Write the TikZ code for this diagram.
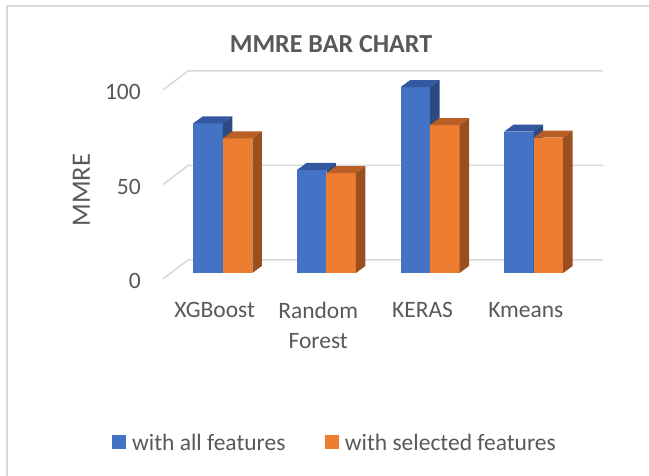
\documentclass[tikz,border=0pt]{standalone}
\usepackage{fontspec}
\setmainfont{Carlito}
\usepackage{xcolor}
\usetikzlibrary{positioning}

\definecolor{barblue}{HTML}{4472C4}
\definecolor{barbluetop}{HTML}{3358A0}
\definecolor{barblueside}{HTML}{2C4A82}
\definecolor{barorange}{HTML}{ED7D31}
\definecolor{barorangetop}{HTML}{B95E24}
\definecolor{barorangeside}{HTML}{9A4F1E}
\definecolor{gridgray}{HTML}{D9D9D9}
\definecolor{txtgray}{HTML}{595959}

% one 3d column: left edge, value, colour
\newcommand{\colbar}[3]{%
  \pgfmathsetmacro{\bh}{#2*1.89}
  \fill[#3] (#1,273) rectangle ({#1+29.5},{273-\bh});
  \fill[#3top] (#1,{273-\bh}) -- ++(9.5,-7) -- ++(29.5,0) -- ++(-9.5,7) -- cycle;
  \fill[#3side] ({#1+29.5},273) -- ++(0,-\bh) -- ++(9.5,-7) -- ++(0,\bh) -- cycle;
}

\begin{document}
\begin{tikzpicture}[x=1bp,y=-1bp,
    gridline/.style={draw=gridgray,line width=1.5bp},
    chartfont/.style={text=txtgray,inner sep=0pt,font=\fontsize{23.5bp}{30bp}\selectfont},
    ticklabel/.style={chartfont,anchor=east},
    catlabel/.style={chartfont,anchor=north,align=center},
    legsq/.style={minimum size=13.5bp,inner sep=0pt},
    legtxt/.style={chartfont}]

    \useasboundingbox (0,0) rectangle (649,476);
    \fill[white] (0,0) rectangle (649,476);

    % chart frame
    \draw[gridline] (7,476) |- (649,6);

    % gridlines at 0, 50, 100
    \foreach \yb in {260,165.5,71} {
        \draw[gridline] (163,{\yb+19}) -- (188,\yb) -- (603,\yb);
    }

    % columns
    \foreach \g/\vb/\vo in {0/79.2/71.2, 1/54.5/52.8, 2/98.3/78.3, 3/74.8/71.6} {
        \pgfmathsetmacro{\bx}{193.3+103.6*\g}
        \pgfmathsetmacro{\ox}{\bx+29.5}
        \colbar{\bx}{\vb}{barblue}
        \colbar{\ox}{\vo}{barorange}
    }

    % texts
    \node[text=txtgray,font=\bfseries\fontsize{26bp}{30bp}\selectfont,inner sep=0pt] (title) at (331,44) {MMRE BAR CHART};
    \node[chartfont,font=\fontsize{26.5bp}{30bp}\selectfont,rotate=90] (ytitle) at (81.3,190) {MMRE};

    \node[ticklabel] (t100) at (141,92) {100};
    \node[ticklabel] (t50) at (141,186.5) {50};
    \node[ticklabel] (t0) at (141,281) {0};

    \node[catlabel] (xgb) at (214.7,302.3) {XGBoost};
    \node[catlabel] (rf) at (318.2,301.5) {Random\\Forest};
    \node[catlabel] (keras) at (422.5,302.3) {KERAS};
    \node[catlabel] (kmeans) at (525.8,302.3) {Kmeans};

    % legend
    \node[legsq,fill=barblue] (sqall) at (119,442) {};
    \node[legtxt,right=6bp of sqall] (legall) {with all features};
    \node[legsq,fill=barorange] (sqsel) at (332.2,442) {};
    \node[legtxt,right=5.5bp of sqsel] (legsel) {with selected features};

\end{tikzpicture}
\end{document}
